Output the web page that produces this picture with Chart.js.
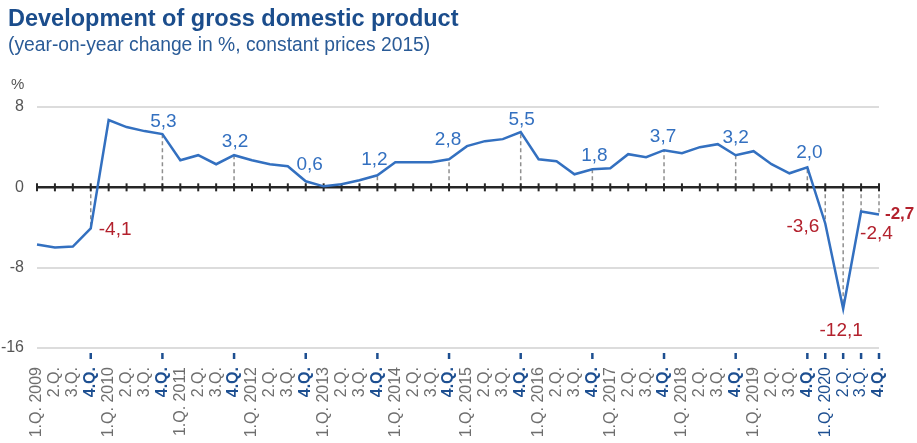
<!DOCTYPE html>
<html>
<head>
<meta charset="utf-8">
<script src="https://cdn.jsdelivr.net/npm/chart.js@4.4.0/dist/chart.umd.min.js"></script>
<style>
  html, body { margin: 0; padding: 0; background: #fff; }
  body { width: 917px; height: 443px; position: relative; overflow: hidden; font-family: "Liberation Sans", Arial, sans-serif; }
  #title { position: absolute; left: 8px; top: 7px; font-size: 23.5px; line-height: 1; font-weight: bold; color: #1b4d8c; white-space: nowrap; }
  #subtitle { position: absolute; left: 8px; top: 35px; font-size: 19.3px; line-height: 1; color: #2a5b97; white-space: nowrap; }
  #wrap { position: absolute; left: 0; top: 0; width: 917px; height: 443px; }
</style>
</head>
<body>
<div id="wrap"><canvas id="gdpChart" width="917" height="443"></canvas></div>
<div id="title">Development of gross domestic product</div>
<div id="subtitle">(year-on-year change in %, constant prices 2015)</div>
<script>
// ----- data -----
const years = [2009, 2010, 2011, 2012, 2013, 2014, 2015, 2016, 2017, 2018, 2019, 2020];
const quarters = ["1.Q.", "2.Q.", "3.Q.", "4.Q."];
const gdpChange = [
  -5.7, -6.0, -5.9, -4.1,
   6.7,  6.0,  5.6,  5.3,
   2.7,  3.2,  2.3,  3.2,
   2.7,  2.3,  2.1,  0.6,
   0.1,  0.3,  0.7,  1.2,
   2.5,  2.5,  2.5,  2.8,
   4.1,  4.6,  4.8,  5.5,
   2.8,  2.6,  1.3,  1.8,
   1.9,  3.3,  3.0,  3.7,
   3.4,  4.0,  4.3,  3.2,
   3.6,  2.3,  1.4,  2.0,
  -3.6, -12.1, -2.4, -2.7
];
const yTicks = [8, 0, -8, -16];

// tick labels: "1.Q. 2009", "2.Q.", "3.Q.", "4.Q.", "1.Q. 2010", ...
const categories = [];
const catYear = [];
const catQuarter = [];
years.forEach(y => quarters.forEach((q, i) => {
  categories.push(i === 0 ? q + " " + y : q);
  catYear.push(y);
  catQuarter.push(i + 1);
}));

const lastYear = years[years.length - 1];
const isLabelled = i => catQuarter[i] === 4 || catYear[i] === lastYear;
const keyOf = i => catQuarter[i] + "|" + catYear[i];

// label offsets from the point (text centre, or near edge for left/right)
const labelPos = {
  "4|2009": { align: "left", dx: 8, dy: 1 },
  "4|2010": { dx: 1, dy: -12 },
  "4|2011": { dx: 1, dy: -13 },
  "4|2012": { dx: 4, dy: -17 },
  "4|2013": { dx: -3, dy: -16 },
  "4|2014": { dx: -1, dy: -19 },
  "4|2015": { dx: 1, dy: -12 },
  "4|2016": { dx: 2, dy: -13 },
  "4|2017": { dx: -1, dy: -13 },
  "4|2018": { dx: 0, dy: -17 },
  "4|2019": { dx: 2, dy: -14 },
  "1|2020": { align: "right", dx: -6, dy: 3 },
  "2|2020": { dx: -2, dy: 22 },
  "3|2020": { align: "left", dx: -1, dy: 22 },
  "4|2020": { align: "left", dx: 6, dy: 0, bold: true, size: 17 }
};

const BLUE = "#3370c0";
const NAVY = "#1d4f91";
const RED = "#b3212d";
const GREY = "#6e6e6e";
const FONT = '"Liberation Sans", Arial, sans-serif';

const fmt = v => v.toFixed(1).replace(".", ",");

const gdpDecor = {
  id: "gdpDecor",
  beforeDatasetsDraw(chart) {
    const { ctx, chartArea, scales: { x, y } } = chart;
    const y0 = y.getPixelForValue(0);
    ctx.save();
    // dashed droplines to the zero line
    ctx.strokeStyle = "#8f8f8f";
    ctx.lineWidth = 1.5;
    ctx.setLineDash([4, 3]);
    gdpChange.forEach((v, i) => {
      if (!isLabelled(i)) return;
      const px = x.getPixelForValue(i);
      ctx.beginPath();
      ctx.moveTo(px, y0);
      ctx.lineTo(px, y.getPixelForValue(v));
      ctx.stroke();
    });
    ctx.setLineDash([]);
    // zero line with a mark at every quarter
    ctx.strokeStyle = "#262626";
    ctx.lineWidth = 2.5;
    ctx.beginPath();
    ctx.moveTo(chartArea.left, y0);
    ctx.lineTo(chartArea.right, y0);
    ctx.stroke();
    ctx.lineWidth = 2;
    categories.forEach((c, i) => {
      const px = x.getPixelForValue(i);
      ctx.beginPath();
      ctx.moveTo(px, y0 - 4);
      ctx.lineTo(px, y0 + 4);
      ctx.stroke();
    });
    ctx.restore();
  },
  afterDatasetsDraw(chart) {
    const { ctx, chartArea, scales: { x, y } } = chart;
    ctx.save();
    // value labels
    ctx.textBaseline = "middle";
    gdpChange.forEach((v, i) => {
      if (!isLabelled(i)) return;
      const pos = labelPos[keyOf(i)] || { dx: 0, dy: -13 };
      const px = x.getPixelForValue(i);
      const py = y.getPixelForValue(v);
      ctx.fillStyle = v < 0 ? RED : BLUE;
      ctx.font = (pos.bold ? "bold " : "") + (pos.size || 19) + "px " + FONT;
      ctx.textAlign = pos.align || "center";
      ctx.fillText(fmt(v), px + pos.dx, py + pos.dy);
    });
    // short marks under the axis for each year-end quarter and the last year
    ctx.strokeStyle = NAVY;
    ctx.lineWidth = 2.5;
    categories.forEach((c, i) => {
      if (!isLabelled(i)) return;
      const px = x.getPixelForValue(i);
      ctx.beginPath();
      ctx.moveTo(px, chartArea.bottom + 5);
      ctx.lineTo(px, chartArea.bottom + 11);
      ctx.stroke();
    });
    // unit
    ctx.fillStyle = "#555";
    ctx.font = "15px " + FONT;
    ctx.textAlign = "left";
    ctx.textBaseline = "middle";
    ctx.fillText("%", 11, 85);
    ctx.restore();
  }
};

new Chart(document.getElementById("gdpChart"), {
  type: "line",
  data: {
    labels: categories,
    datasets: [{
      data: gdpChange,
      borderColor: BLUE,
      borderWidth: 2.5,
      pointRadius: 0,
      tension: 0,
      fill: false
    }]
  },
  options: {
    responsive: false,
    animation: false,
    devicePixelRatio: 1,
    layout: { padding: { top: 107, right: 38, left: 0, bottom: 0 } },
    plugins: { legend: { display: false }, tooltip: { enabled: false } },
    scales: {
      x: {
        offset: false,
        grid: { display: false },
        border: { display: false },
        ticks: {
          autoSkip: false,
          minRotation: 90,
          maxRotation: 90,
          padding: 11,
          color: c => (catYear[c.index] === lastYear || catQuarter[c.index] === 4) ? NAVY : GREY,
          font: c => ({ family: FONT, size: 16, weight: catQuarter[c.index] === 4 ? "bold" : "normal" })
        },
        afterFit: s => { s.height = 95; }
      },
      y: {
        min: yTicks[yTicks.length - 1],
        max: yTicks[0],
        afterBuildTicks: s => { s.ticks = yTicks.map(v => ({ value: v })); },
        grid: {
          color: c => c.tick && c.tick.value === 0 ? "rgba(0,0,0,0)" : "#dcdcdc",
          lineWidth: 2,
          drawTicks: false
        },
        border: { display: false },
        ticks: { padding: 13, color: "#555", font: { family: FONT, size: 16 } },
        afterFit: s => { s.width = 37; }
      }
    }
  },
  plugins: [gdpDecor]
});
</script>
</body>
</html>
